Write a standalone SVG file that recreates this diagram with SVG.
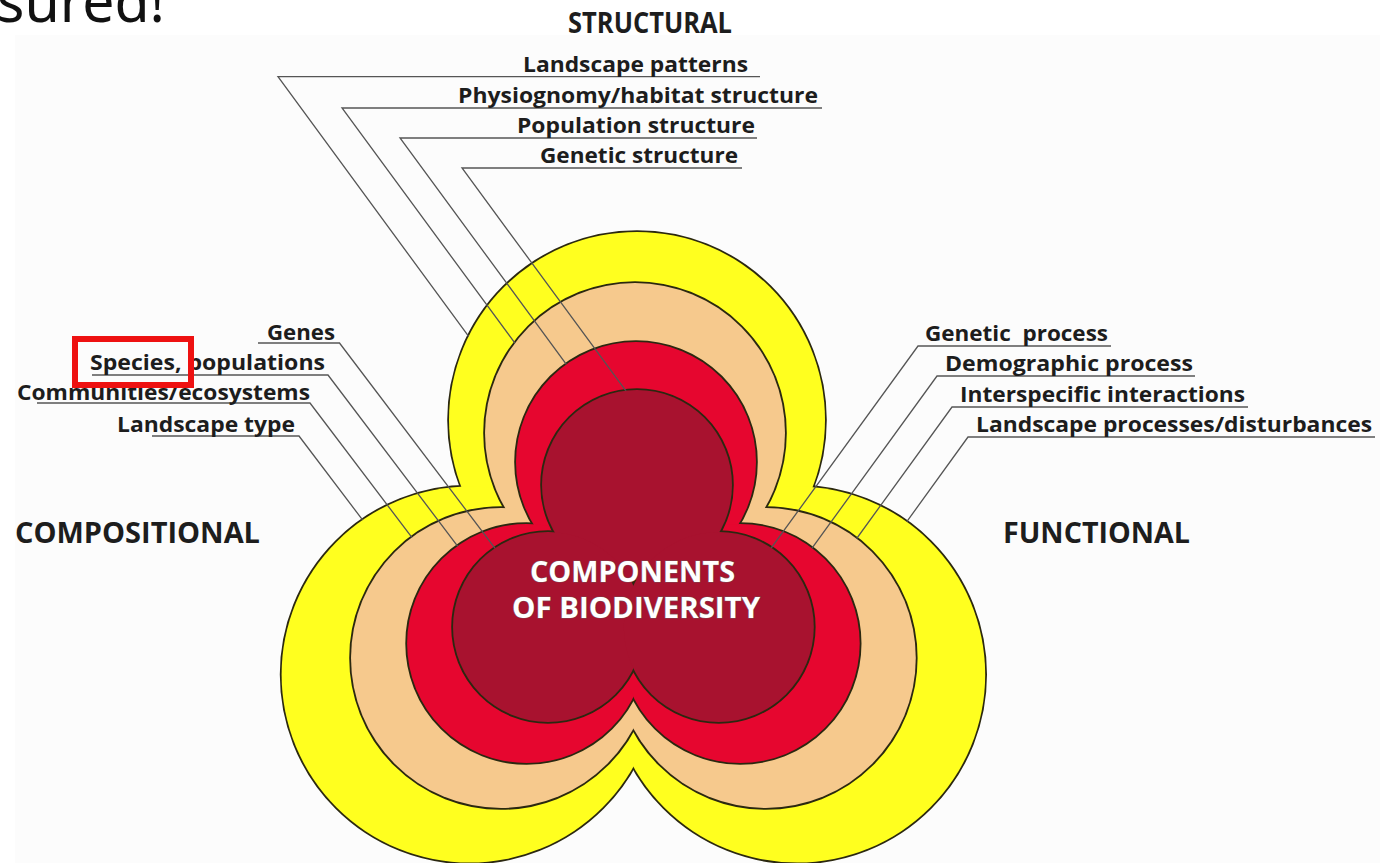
<svg xmlns="http://www.w3.org/2000/svg" xmlns:xlink="http://www.w3.org/1999/xlink" width="1380" height="863" viewBox="0 0 1380 863">
<defs>
<style>
.lbl{font-family:"Open Sans","Liberation Sans",sans-serif;font-weight:700;font-size:21px;fill:#1d1d1d}
.cat{font-size:29px}
.ctr{font-family:"Open Sans","Liberation Sans",sans-serif;font-weight:700;font-size:29px;fill:#ffffff;stroke:#7a4a52;stroke-width:1.2;paint-order:stroke}
.ln{fill:none;stroke:#555555;stroke-width:1.3}
.outline{fill:none;stroke:#2b2810;stroke-width:3.6}
</style>
<g id="shpY"><circle cx="637" cy="420" r="188"/><circle cx="469.6" cy="674.6" r="188"/><circle cx="797.2" cy="674.6" r="188"/></g>
<g id="shpT"><circle cx="635" cy="433" r="150"/><circle cx="501" cy="658" r="150"/><circle cx="765.8" cy="658" r="150"/></g>
<g id="shpR"><circle cx="636" cy="462" r="120"/><circle cx="526.6" cy="643.5" r="119.5"/><circle cx="740.2" cy="643.5" r="119.5"/></g>
<g id="shpD"><circle cx="637" cy="485" r="95"/><circle cx="548" cy="627" r="95"/><circle cx="718.8" cy="627" r="95"/></g>
<mask id="mY" maskUnits="userSpaceOnUse" x="0" y="0" width="1380" height="863"><rect width="1380" height="863" fill="#fff"/><use xlink:href="#shpY" fill="#000"/></mask>
<mask id="mT" maskUnits="userSpaceOnUse" x="0" y="0" width="1380" height="863"><rect width="1380" height="863" fill="#fff"/><use xlink:href="#shpT" fill="#000"/></mask>
<mask id="mR" maskUnits="userSpaceOnUse" x="0" y="0" width="1380" height="863"><rect width="1380" height="863" fill="#fff"/><use xlink:href="#shpR" fill="#000"/></mask>
<mask id="mD" maskUnits="userSpaceOnUse" x="0" y="0" width="1380" height="863"><rect width="1380" height="863" fill="#fff"/><use xlink:href="#shpD" fill="#000"/></mask>
</defs>
<rect width="1380" height="863" fill="#ffffff"/>
<rect x="15" y="35" width="1365" height="828" fill="#fcfcfc"/>
<text x="-3" y="22" font-family="'Noto Sans','Open Sans',sans-serif" font-size="58" fill="#111111" textLength="168" lengthAdjust="spacingAndGlyphs">sured!</text>

<g id="layer-yellow"><use xlink:href="#shpY" class="outline"/><use xlink:href="#shpY" fill="#FFFF1F"/></g>
<g id="layer-tan"><use xlink:href="#shpT" class="outline"/><use xlink:href="#shpT" fill="#F6C98D"/></g>
<g id="layer-red"><use xlink:href="#shpR" class="outline"/><use xlink:href="#shpR" fill="#E6062F"/></g>
<g id="layer-darkred"><use xlink:href="#shpD" class="outline"/><use xlink:href="#shpD" fill="#A8122F"/></g>

<g id="connectors" class="ln">
<polyline points="760,76.7 278,76.7 485,358.7" mask="url(#mY)"/>
<polyline points="822,108 342,108 531.6,365.8" mask="url(#mT)"/>
<polyline points="757,138 400,138 583.6,387.8" mask="url(#mR)"/>
<polyline points="742,168 462,168 639.7,409.7" mask="url(#mD)"/>
<polyline points="258,343 339.5,343 511.6,570.2" mask="url(#mD)"/>
<polyline points="92,375 328,375 472.9,566.3" mask="url(#mR)"/>
<polyline points="37,403 310,403 430.8,562.4" mask="url(#mT)"/>
<polyline points="152,436 299,436 380.5,543.6" mask="url(#mY)"/>
<polyline points="1111,346 918,346 755.9,569.1" mask="url(#mD)"/>
<polyline points="1195,376 937,376 795.5,570.9" mask="url(#mR)"/>
<polyline points="1248,407 952,407 840,561.5" mask="url(#mT)"/>
<polyline points="1375,437 968,437 888.4,547.1" mask="url(#mY)"/>
</g>

<g id="structural">
<text class="lbl cat" x="568" y="33" textLength="164" lengthAdjust="spacingAndGlyphs">STRUCTURAL</text>
<text class="lbl" x="523" y="72" textLength="225" lengthAdjust="spacingAndGlyphs">Landscape patterns</text>
<text class="lbl" x="458" y="103" textLength="360" lengthAdjust="spacingAndGlyphs">Physiognomy/habitat structure</text>
<text class="lbl" x="517" y="133" textLength="238" lengthAdjust="spacingAndGlyphs">Population structure</text>
<text class="lbl" x="540" y="163" textLength="198" lengthAdjust="spacingAndGlyphs">Genetic structure</text>
</g>
<g id="compositional">
<text class="lbl" x="267" y="340" textLength="68" lengthAdjust="spacingAndGlyphs">Genes</text>
<text class="lbl" x="90" y="370" textLength="235" lengthAdjust="spacingAndGlyphs">Species, populations</text>
<text class="lbl" x="17" y="400" textLength="293" lengthAdjust="spacingAndGlyphs">Communities/ecosystems</text>
<text class="lbl" x="117" y="432" textLength="178" lengthAdjust="spacingAndGlyphs">Landscape type</text>
<text class="lbl cat" x="15" y="543" textLength="245" lengthAdjust="spacingAndGlyphs">COMPOSITIONAL</text>
</g>
<g id="functional">
<text class="lbl" x="925" y="341" textLength="183" lengthAdjust="spacingAndGlyphs" xml:space="preserve">Genetic  process</text>
<text class="lbl" x="945" y="371" textLength="248" lengthAdjust="spacingAndGlyphs">Demographic process</text>
<text class="lbl" x="960" y="402" textLength="285" lengthAdjust="spacingAndGlyphs">Interspecific interactions</text>
<text class="lbl" x="976" y="432" textLength="396" lengthAdjust="spacingAndGlyphs">Landscape processes/disturbances</text>
<text class="lbl cat" x="1003" y="543" textLength="187" lengthAdjust="spacingAndGlyphs">FUNCTIONAL</text>
</g>
<g id="center-label">
<text class="ctr" x="530" y="582" textLength="205" lengthAdjust="spacingAndGlyphs">COMPONENTS</text>
<text class="ctr" x="512" y="618" textLength="248" lengthAdjust="spacingAndGlyphs">OF BIODIVERSITY</text>
</g>
<rect id="highlight" x="75" y="339" width="116" height="46" fill="none" stroke="#EE1111" stroke-width="6"/>
</svg>
